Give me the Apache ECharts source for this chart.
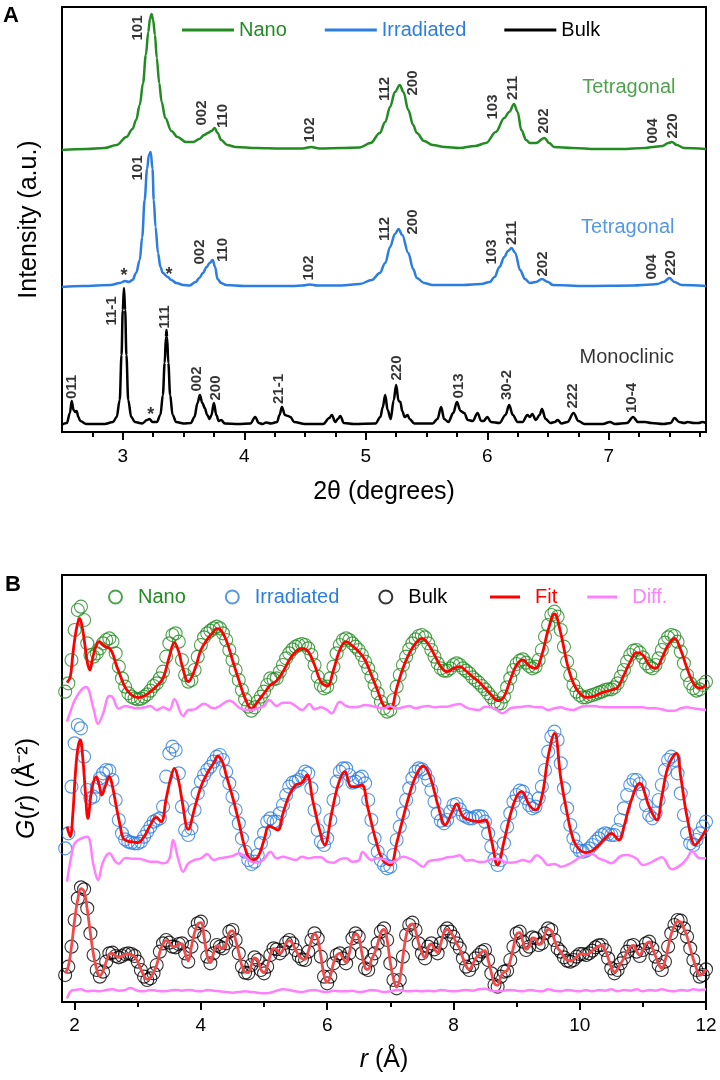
<!DOCTYPE html>
<html>
<head>
<meta charset="utf-8">
<script src="https://cdn.jsdelivr.net/npm/echarts@6/dist/echarts.min.js"></script>
<style>html,body{margin:0;padding:0;background:#fff}#c{width:720px;height:1080px}</style>
</head>
<body>
<div id="c"></div>
<script>
// ---------- Panel A: XRD (2theta in degrees, intensity above each trace's baseline, a.u.) ----------
const NANO_BASE = 282, IRR_BASE = 145, BULK_BASE = 7;
const nanoXRD = [[2.5,0],[2.7,1],[2.85,2],[2.95,5],[3.03,13],[3.08,21],[3.11,30],[3.14,45],[3.167,67],[3.19,95],[3.21,118],[3.225,132],[3.237,136],[3.25,130],[3.265,115],[3.28,92],[3.3,67],[3.32,48],[3.35,32],[3.4,19],[3.45,13],[3.52,8],[3.58,8],[3.63,11],[3.67,15],[3.7,17],[3.73,19],[3.757,22],[3.78,17],[3.81,10],[3.86,5],[3.93,3],[4.1,2],[4.3,1.5],[4.48,1.5],[4.55,3],[4.62,1.5],[4.8,2],[4.95,2.5],[5.04,7],[5.115,17],[5.16,28],[5.2,43],[5.24,58],[5.28,65],[5.31,58],[5.35,40],[5.39,25],[5.42,17],[5.48,9],[5.55,5],[5.65,3],[5.77,2],[5.9,4],[5.99,7],[6.07,18],[6.14,32],[6.18,38],[6.22,46],[6.25,38],[6.28,20],[6.32,10],[6.35,7],[6.4,7],[6.47,12],[6.51,7],[6.55,3],[6.7,2],[6.9,1],[7.1,1],[7.3,2],[7.36,3],[7.4,3.5],[7.44,4],[7.49,7],[7.52,8],[7.56,5],[7.62,2],[7.8,1]];
const irrXRD = [[2.5,0],[2.67,1],[2.9,2],[2.975,4],[3.02,6],[3.05,5],[3.08,7],[3.11,14],[3.14,27],[3.16,50],[3.18,87],[3.2,118],[3.215,132],[3.23,135],[3.245,118],[3.255,87],[3.27,60],[3.29,34],[3.31,20],[3.33,14],[3.37,10],[3.4,7],[3.44,4],[3.5,2],[3.55,1.5],[3.6,5],[3.63,9],[3.66,14],[3.69,20],[3.715,24],[3.74,27],[3.76,20],[3.78,8],[3.81,4],[3.85,2],[4,1],[4.4,1],[4.48,1.5],[4.54,2.5],[4.6,1.5],[4.8,1.5],[4.95,3],[5.05,7],[5.115,14],[5.16,24],[5.2,40],[5.24,53],[5.27,58],[5.3,52],[5.35,34],[5.39,18],[5.42,9],[5.48,4],[5.55,2],[5.8,2],[5.95,3],[6.02,5],[6.06,10],[6.1,20],[6.14,30],[6.17,36],[6.2,39],[6.23,34],[6.27,17],[6.31,8],[6.35,4],[6.4,5],[6.45,8],[6.5,5],[6.54,2],[6.8,1],[7.2,1.5],[7.35,2.5],[7.4,3],[7.45,5],[7.5,9],[7.54,5],[7.6,2],[7.8,1]];
const bulkXRD = [[2.5,0.5],[2.54,2],[2.565,12],[2.58,24],[2.595,15],[2.61,13],[2.62,14],[2.635,8],[2.65,4],[2.7,1],[2.85,1],[2.92,3],[2.95,8],[2.975,25],[2.99,70],[3,115],[3.01,137],[3.02,115],[3.03,70],[3.045,25],[3.07,8],[3.1,3],[3.16,1.5],[3.2,5],[3.22,6],[3.245,3],[3.28,3],[3.31,10],[3.33,30],[3.345,62],[3.355,88],[3.36,95],[3.365,88],[3.375,62],[3.39,30],[3.41,10],[3.44,3],[3.5,1.5],[3.56,2],[3.59,8],[3.615,22],[3.635,30],[3.655,22],[3.675,17],[3.695,10],[3.715,6],[3.73,10],[3.75,22],[3.77,10],[3.79,4],[3.81,5],[3.84,1.5],[3.95,1],[4.05,1.5],[4.09,8],[4.12,2],[4.15,1],[4.18,2.5],[4.22,1.5],[4.27,3],[4.29,10],[4.31,18],[4.335,10],[4.36,9],[4.38,8],[4.41,3],[4.5,1],[4.65,1],[4.7,7],[4.72,10],[4.75,3],[4.77,6],[4.79,9],[4.82,2],[4.9,1],[5.08,1.5],[5.12,8],[5.14,18],[5.16,30],[5.18,15],[5.205,6],[5.23,25],[5.25,40],[5.27,24],[5.285,23],[5.3,14],[5.32,8],[5.345,10],[5.36,6],[5.4,1.5],[5.55,1.5],[5.59,6],[5.62,18],[5.645,6],[5.68,3],[5.72,12],[5.75,23],[5.78,14],[5.81,12],[5.84,5],[5.88,4],[5.92,12],[5.95,4],[5.97,4],[6,8],[6.03,3],[6.1,2],[6.15,10],[6.18,20],[6.21,10],[6.25,3],[6.29,3],[6.33,10],[6.35,8],[6.37,11],[6.4,5],[6.43,10],[6.45,16],[6.48,6],[6.52,2],[6.555,3],[6.58,5],[6.61,1.5],[6.66,3],[6.71,12],[6.75,4],[6.8,1],[6.95,1],[7.01,3],[7.05,1],[7.15,2],[7.2,8],[7.24,3],[7.3,3],[7.35,2],[7.45,1],[7.51,2],[7.54,7],[7.58,3],[7.62,2],[7.65,3],[7.7,2],[7.74,2],[7.77,3],[7.8,2]];
// reflection labels: [text, 2theta, height]
const nanoHKL = [['101',3.125,404],['002',3.65,319],['110',3.825,316],['102',4.54,302],['112',5.158,343],['200',5.389,349],['103',6.047,325],['211',6.212,344],['202',6.467,311],['004',7.364,301],['220',7.529,306]];
const irrHKL = [['101',3.125,264],['002',3.636,180],['110',3.825,182],['102',4.533,164],['112',5.158,203],['200',5.389,210],['103',6.039,180],['211',6.204,199],['202',6.459,168],['004',7.356,165],['220',7.512,169]];
const bulkHKL = [['011',2.58,45],['11-1',2.91,121],['111',3.35,115],['002',3.61,53],['200',3.77,44],['21-1',4.286,43],['220',5.257,64],['013',5.767,46],['30-2',6.163,47],['222',6.706,36],['10-4',7.191,34]];
const stars = [['*',3.01,156],['*',3.38,157],['*',3.23,17]];
const phaseNames = [['Tetragonal',7.165,345,'#228b22'],['Tetragonal',7.156,205,'#2b7de1'],['Monoclinic',7.148,75,'#000000']];
const ticksA = [3,4,5,6,7];
const minorA = [2.75,3.25,3.5,3.75,4.25,4.5,4.75,5.25,5.5,5.75,6.25,6.5,6.75,7.25,7.5,7.75];

// ---------- Panel B: PDF G(r), offset traces ----------
const rObs = [1.85,1.9,1.95,
2,2.05,2.1,2.15,2.2,2.25,2.3,2.35,2.4,2.45,2.5,2.55,2.6,2.65,2.7,2.75,2.8,2.85,2.9,2.95,
3,3.05,3.1,3.15,3.2,3.25,3.3,3.35,3.4,3.45,3.5,3.55,3.6,3.65,3.7,3.75,3.8,3.85,3.9,3.95,
4,4.05,4.1,4.15,4.2,4.25,4.3,4.35,4.4,4.45,4.5,4.55,4.6,4.65,4.7,4.75,4.8,4.85,4.9,4.95,
5,5.05,5.1,5.15,5.2,5.25,5.3,5.35,5.4,5.45,5.5,5.55,5.6,5.65,5.7,5.75,5.8,5.85,5.9,5.95,
6,6.05,6.1,6.15,6.2,6.25,6.3,6.35,6.4,6.45,6.5,6.55,6.6,6.65,6.7,6.75,6.8,6.85,6.9,6.95,
7,7.05,7.1,7.15,7.2,7.25,7.3,7.35,7.4,7.45,7.5,7.55,7.6,7.65,7.7,7.75,7.8,7.85,7.9,7.95,
8,8.05,8.1,8.15,8.2,8.25,8.3,8.35,8.4,8.45,8.5,8.55,8.6,8.65,8.7,8.75,8.8,8.85,8.9,8.95,
9,9.05,9.1,9.15,9.2,9.25,9.3,9.35,9.4,9.45,9.5,9.55,9.6,9.65,9.7,9.75,9.8,9.85,9.9,9.95,
10,10.05,10.1,10.15,10.2,10.25,10.3,10.35,10.4,10.45,10.5,10.55,10.6,10.65,10.7,10.75,10.8,10.85,10.9,10.95,
11,11.05,11.1,11.15,11.2,11.25,11.3,11.35,11.4,11.45,11.5,11.55,11.6,11.65,11.7,11.75,11.8,11.85,11.9,11.95,
12];
const nanoObs = [931,956,1026,
1116,1176,1186,1146,1076,1041,1036,1046,1061,1076,1086,1091,1081,1046,1006,971,946,926,916,911,
908,910,916,923,934,948,956,971,991,1036,1076,1101,1106,1081,1026,981,961,966,996,1036,
1071,1094,1106,1114,1121,1126,1121,1106,1086,1056,1026,996,966,936,908,886,874,884,901,916,
931,951,971,968,971,991,1011,1031,1046,1058,1066,1071,1074,1071,1061,1041,1011,976,951,941,
946,971,1006,1046,1071,1086,1091,1086,1076,1066,1056,1041,1021,1001,976,951,926,901,881,871,
876,906,946,981,1011,1036,1058,1076,1088,1098,1101,1094,1076,1056,1036,1016,1001,994,994,1001,
1011,1016,1011,1001,994,986,974,966,958,948,938,926,914,901,894,896,916,944,971,996,
1014,1024,1028,1018,1008,1001,1006,1026,1056,1096,1131,1161,1171,1156,1116,1066,1021,981,951,931,
921,914,914,918,921,924,928,931,936,938,938,944,956,976,996,1021,1041,1054,1056,1048,
1034,1016,1006,1001,1011,1031,1056,1078,1094,1101,1098,1081,1051,1016,981,956,941,934,938,951,
961];
const irrObs = [461,506,646,
776,831,821,736,636,611,616,646,671,686,696,694,666,606,546,506,488,481,478,476,
476,481,496,511,526,541,546,551,586,676,746,766,756,686,586,516,501,521,576,626,
661,681,696,706,721,736,741,726,691,656,616,576,536,491,451,426,414,421,441,476,
506,541,551,541,541,566,591,621,646,658,661,666,676,691,686,641,576,516,481,471,
491,546,606,661,691,701,701,681,658,661,671,676,656,606,546,491,451,426,411,401,
406,441,486,526,566,606,641,671,691,701,698,686,666,636,601,566,544,536,546,571,
591,594,578,561,556,551,551,556,558,556,541,506,466,428,411,426,476,526,566,601,
621,634,631,611,591,581,586,611,646,696,751,796,811,786,716,641,581,531,491,466,
454,451,454,461,471,481,491,501,506,504,501,501,516,546,581,621,651,666,666,654,
626,591,561,551,566,606,651,696,726,736,726,686,626,561,506,476,471,486,506,526,
541];
const bulkObs = [81,106,166,
246,311,344,338,281,206,141,96,76,91,121,146,148,138,134,138,144,146,144,138,
121,96,76,66,71,86,111,151,176,186,178,166,164,174,176,146,121,166,211,236,
241,196,136,116,146,171,166,161,176,211,216,186,146,106,88,86,111,134,126,96,
86,106,141,161,158,146,156,178,186,176,156,138,128,126,151,186,206,191,136,76,
56,76,116,141,146,131,116,146,191,206,196,146,101,96,126,146,176,211,221,186,
116,66,41,66,136,201,231,238,216,176,146,131,166,176,158,146,176,211,221,211,
196,176,161,131,106,96,111,131,141,151,156,126,86,51,46,76,91,94,126,166,
206,211,181,156,166,194,191,171,176,206,221,216,186,161,151,134,124,121,126,136,
144,144,141,146,154,164,170,171,156,131,101,86,96,116,131,151,168,171,151,138,
156,176,181,161,136,111,96,121,166,206,231,246,244,221,196,161,126,96,76,81,
98];
const bulkFit = [86,106,166,
246,308,340,332,278,206,141,98,78,93,121,144,146,138,134,138,142,144,142,136,
121,98,78,68,73,88,111,150,174,184,178,166,166,174,174,146,123,166,208,234,
238,196,138,118,146,168,164,160,176,208,214,186,148,108,90,88,111,132,126,98,
88,106,140,160,158,146,156,176,184,176,156,140,130,128,151,184,204,190,138,80,
60,78,116,140,146,132,118,146,188,204,194,146,103,98,126,146,174,208,218,186,
118,70,45,68,136,198,228,234,214,176,148,133,164,174,158,148,176,208,218,210,
196,176,160,132,108,98,111,130,140,150,154,126,88,55,50,76,90,94,124,164,
204,208,181,158,166,192,190,172,176,204,218,214,186,162,151,136,126,123,126,136,
144,144,142,146,154,162,168,170,156,132,104,90,98,116,131,150,166,170,152,140,
156,174,180,162,138,113,100,122,164,204,228,242,240,220,196,162,128,100,80,84,
98];
const nanoFit = [[1.88,958],[1.93,975],[1.97,1040],[2,1086],[2.04,1130],[2.08,1151],[2.12,1125],[2.16,1075],[2.2,1020],[2.24,996],[2.29,1036],[2.34,1068],[2.39,1081],[2.44,1072],[2.5,1064],[2.55,1061],[2.6,1046],[2.66,1011],[2.7,991],[2.8,944],[2.9,921],[3,913],[3.1,918],[3.2,931],[3.3,948],[3.4,971],[3.5,1036],[3.58,1078],[3.65,1050],[3.7,1011],[3.8,961],[3.9,996],[4,1056],[4.1,1088],[4.2,1111],[4.25,1120],[4.3,1118],[4.4,1086],[4.5,1026],[4.6,966],[4.7,911],[4.8,880],[4.9,901],[5,926],[5.1,951],[5.2,964],[5.3,991],[5.4,1026],[5.5,1051],[5.6,1061],[5.7,1051],[5.8,1011],[5.9,961],[6,948],[6.1,996],[6.2,1056],[6.3,1081],[6.4,1068],[6.5,1051],[6.6,1026],[6.7,981],[6.8,934],[6.9,888],[7,881],[7.1,941],[7.2,1001],[7.3,1046],[7.4,1076],[7.5,1091],[7.6,1074],[7.7,1041],[7.8,1006],[7.9,991],[8,1001],[8.1,1006],[8.2,993],[8.3,976],[8.4,961],[8.5,941],[8.6,921],[8.7,904],[8.8,916],[8.9,966],[9,1011],[9.1,1026],[9.2,1008],[9.3,1001],[9.4,1041],[9.5,1116],[9.6,1164],[9.7,1106],[9.8,1016],[9.9,956],[10,926],[10.1,914],[10.2,916],[10.3,924],[10.4,931],[10.5,936],[10.6,944],[10.7,981],[10.8,1021],[10.9,1048],[11,1041],[11.1,1011],[11.2,1001],[11.3,1031],[11.4,1071],[11.5,1091],[11.6,1056],[11.7,1001],[11.8,956],[11.9,941],[12,951]];
const irrFit = [[1.88,526],[1.93,496],[1.97,560],[2.01,680],[2.05,760],[2.09,786],[2.13,730],[2.17,630],[2.21,551],[2.27,636],[2.34,676],[2.39,650],[2.43,621],[2.49,650],[2.55,676],[2.6,646],[2.66,586],[2.72,530],[2.77,491],[2.85,482],[2.9,481],[3,478],[3.1,496],[3.2,531],[3.29,554],[3.37,541],[3.45,610],[3.52,670],[3.58,701],[3.65,660],[3.7,606],[3.8,518],[3.9,581],[4,646],[4.1,686],[4.2,716],[4.27,738],[4.35,716],[4.4,681],[4.5,616],[4.6,541],[4.7,461],[4.8,426],[4.9,434],[5,486],[5.08,528],[5.15,522],[5.22,516],[5.3,566],[5.4,621],[5.5,651],[5.6,658],[5.68,681],[5.77,606],[5.88,516],[5.96,471],[6.07,566],[6.18,656],[6.28,691],[6.38,646],[6.46,646],[6.55,651],[6.64,586],[6.77,486],[6.88,426],[7,411],[7.1,476],[7.2,551],[7.3,621],[7.4,676],[7.52,708],[7.63,676],[7.76,586],[7.87,531],[7.97,566],[8.05,594],[8.15,556],[8.26,546],[8.4,541],[8.5,546],[8.6,486],[8.7,411],[8.8,481],[8.9,561],[9,616],[9.08,631],[9.2,591],[9.3,576],[9.4,616],[9.5,736],[9.6,806],[9.7,671],[9.8,566],[9.9,486],[10,456],[10.1,448],[10.2,454],[10.3,471],[10.4,491],[10.5,506],[10.62,486],[10.7,526],[10.8,596],[10.95,656],[11.1,586],[11.22,546],[11.3,616],[11.4,706],[11.53,746],[11.6,676],[11.7,556],[11.83,471],[11.9,486],[12,518]];
const nanoDiff = [[1.88,841],[1.95,880],[2,905],[2.1,935],[2.18,945],[2.3,880],[2.37,835],[2.45,865],[2.55,918],[2.6,915],[2.7,880],[2.8,888],[2.9,884],[3,881],[3.1,884],[3.2,888],[3.3,876],[3.4,884],[3.5,876],[3.58,908],[3.72,858],[3.8,876],[3.9,878],[4,891],[4.05,895],[4.2,881],[4.3,888],[4.4,901],[4.46,904],[4.6,884],[4.7,876],[4.8,876],[4.9,881],[5,888],[5.08,906],[5.2,888],[5.3,898],[5.4,898],[5.5,888],[5.6,876],[5.72,894],[5.8,878],[5.9,884],[6,876],[6.07,866],[6.2,901],[6.3,888],[6.4,884],[6.5,886],[6.6,891],[6.7,888],[6.8,884],[6.9,881],[7,888],[7.1,880],[7.2,884],[7.3,888],[7.4,881],[7.5,886],[7.6,888],[7.7,884],[7.8,886],[7.9,886],[8,891],[8.1,894],[8.2,884],[8.3,878],[8.4,876],[8.5,886],[8.6,884],[8.7,874],[8.78,866],[8.9,881],[9,884],[9.1,886],[9.2,888],[9.3,884],[9.4,884],[9.5,876],[9.6,881],[9.7,884],[9.8,878],[9.9,876],[10,884],[10.1,888],[10.2,888],[10.3,886],[10.4,884],[10.5,884],[10.6,884],[10.7,884],[10.8,884],[10.9,884],[11,884],[11.1,881],[11.2,881],[11.3,878],[11.4,874],[11.5,874],[11.6,881],[11.7,884],[11.8,881],[11.9,878],[12,876]];
const irrDiff = [[1.88,361],[1.95,440],[2,476],[2.1,490],[2.2,496],[2.3,410],[2.37,366],[2.45,420],[2.55,446],[2.65,420],[2.7,415],[2.8,432],[2.9,430],[3,430],[3.1,426],[3.2,421],[3.3,421],[3.4,416],[3.5,430],[3.56,486],[3.64,430],[3.72,391],[3.8,416],[3.9,426],[4,431],[4.1,444],[4.2,426],[4.3,431],[4.4,434],[4.5,438],[4.6,446],[4.7,436],[4.8,421],[4.9,418],[5,428],[5.1,451],[5.2,431],[5.3,436],[5.4,431],[5.5,426],[5.6,436],[5.7,431],[5.8,434],[5.9,434],[6,421],[6.1,418],[6.2,428],[6.3,431],[6.4,421],[6.5,424],[6.56,450],[6.7,426],[6.8,431],[6.9,428],[7,418],[7.1,426],[7.2,436],[7.3,431],[7.4,421],[7.52,406],[7.6,421],[7.7,426],[7.8,428],[7.9,434],[8,436],[8.1,440],[8.2,424],[8.3,426],[8.4,420],[8.5,421],[8.6,428],[8.7,430],[8.8,421],[8.9,418],[9,420],[9.1,426],[9.2,421],[9.32,440],[9.4,431],[9.5,411],[9.6,414],[9.7,406],[9.8,411],[9.9,421],[10,434],[10.1,440],[10.2,444],[10.3,431],[10.4,424],[10.5,416],[10.65,438],[10.75,441],[10.9,430],[11,411],[11.1,416],[11.2,426],[11.3,434],[11.46,398],[11.6,411],[11.7,431],[11.78,452],[11.9,431],[12,431]];
const bulkDiff = [[1.88,11],[1.95,34],[2,36],[2.1,38],[2.2,32],[2.3,34],[2.4,32],[2.5,36],[2.6,38],[2.7,34],[2.8,36],[2.88,42],[3,34],[3.1,32],[3.2,36],[3.3,34],[3.4,32],[3.5,34],[3.6,36],[3.7,34],[3.8,36],[3.9,34],[4,32],[4.1,36],[4.2,34],[4.3,32],[4.4,30],[4.5,28],[4.6,30],[4.7,32],[4.8,30],[4.9,28],[5,26],[5.1,28],[5.2,34],[5.3,38],[5.4,36],[5.5,32],[5.6,30],[5.7,34],[5.8,36],[5.9,32],[6,30],[6.1,34],[6.2,32],[6.3,32],[6.4,34],[6.5,30],[6.6,32],[6.7,36],[6.8,34],[6.9,30],[7,32],[7.1,36],[7.2,34],[7.3,32],[7.4,34],[7.5,32],[7.6,34],[7.7,32],[7.8,36],[7.9,34],[8,32],[8.1,34],[8.2,36],[8.3,34],[8.4,38],[8.5,40],[8.6,34],[8.7,32],[8.8,34],[8.9,36],[9,34],[9.1,32],[9.2,36],[9.3,34],[9.4,32],[9.5,38],[9.6,34],[9.7,32],[9.8,36],[9.9,34],[10,32],[10.1,36],[10.2,32],[10.3,36],[10.4,34],[10.5,38],[10.6,32],[10.7,36],[10.8,34],[10.9,38],[11,32],[11.1,36],[11.2,34],[11.3,38],[11.4,34],[11.5,32],[11.6,36],[11.7,34],[11.8,38],[11.9,36],[12,38]];
const ticksB = [2,4,6,8,10,12];
const minorB = [3,5,7,9,11];

// ---------- styling ----------
const FONT = '"Liberation Sans", Arial, Helvetica, sans-serif';
const GREEN = '#228b22', BLUE = '#2b7de1', BLACK = '#000000', RED = '#ff0000', BULKRED = '#f04a4a', PINK = '#ff80ff';

const chart = echarts.init(document.getElementById('c'), null, {renderer: 'canvas'});

function lineA(name, pts, base, color) {
  return {name, type: 'line', xAxisIndex: 0, yAxisIndex: 0, data: pts.map(p => [p[0], p[1] + base]),
    symbol: 'none', smooth: 0.35, smoothMonotone: 'x', lineStyle: {color, width: 2.5}, itemStyle: {color}, z: 3, silent: true};
}
function textSeries(list, color, size, rotate, weight) {
  return {type: 'scatter', xAxisIndex: 0, yAxisIndex: 0, symbolSize: 0.1, itemStyle: {color: 'transparent'}, silent: true, z: 6,
    data: list.map(d => ({name: d[0], value: [d[1], d[2]]})),
    label: {show: true, position: 'inside', formatter: p => p.name, rotate, color, fontSize: size, fontWeight: weight, fontFamily: FONT}};
}
function obsSeries(name, vals, color) {
  return {name, type: 'scatter', xAxisIndex: 2, yAxisIndex: 1, data: rObs.map((r, i) => [r, vals[i]]),
    symbol: 'circle', symbolSize: 13, itemStyle: {color: 'transparent', borderColor: color, borderWidth: 1.1}, z: 2, silent: true};
}
function lineB(name, data, color, width) {
  return {name, type: 'line', xAxisIndex: 2, yAxisIndex: 1, data, symbol: 'none', smooth: 0.4,
    lineStyle: {color, width}, itemStyle: {color}, z: 4, silent: true};
}

const axisTxt = {color: '#000', fontFamily: FONT};
const option = {
  animation: false,
  backgroundColor: '#fff',
  textStyle: {fontFamily: FONT},
  grid: [
    {left: 62, top: 7, width: 644, height: 425, show: true, borderColor: '#000', borderWidth: 2, backgroundColor: 'transparent'},
    {left: 62, top: 575, width: 644, height: 427, show: true, borderColor: '#000', borderWidth: 2, backgroundColor: 'transparent'}
  ],
  xAxis: [
    {gridIndex: 0, type: 'value', min: 2.5, max: 7.8, position: 'bottom',
      axisLine: {lineStyle: {color: '#000', width: 2}},
      axisTick: {show: true, length: 8, lineStyle: {color: '#000', width: 2}, customValues: ticksA},
      axisLabel: {customValues: ticksA, fontSize: 19, margin: 15, ...axisTxt},
      splitLine: {show: false},
      name: '2θ (degrees)', nameLocation: 'middle', nameGap: 48, nameTextStyle: {fontSize: 25, ...axisTxt}},
    {gridIndex: 0, type: 'value', min: 2.5, max: 7.8, position: 'bottom',
      axisLine: {show: false}, axisLabel: {show: false}, splitLine: {show: false},
      axisTick: {show: true, length: 5, lineStyle: {color: '#000', width: 2}, customValues: minorA}},
    {gridIndex: 1, type: 'value', min: 1.8, max: 12, position: 'bottom',
      axisLine: {lineStyle: {color: '#000', width: 2}},
      axisTick: {show: true, length: 8, lineStyle: {color: '#000', width: 2}, customValues: ticksB},
      axisLabel: {customValues: ticksB, fontSize: 19, margin: 14, ...axisTxt},
      splitLine: {show: false},
      name: '{i|r} (Å)', nameLocation: 'middle', nameGap: 46,
      nameTextStyle: {fontSize: 25, ...axisTxt, rich: {i: {fontStyle: 'italic', fontSize: 25, fontFamily: FONT, color: '#000'}}}},
    {gridIndex: 1, type: 'value', min: 1.8, max: 12, position: 'bottom',
      axisLine: {show: false}, axisLabel: {show: false}, splitLine: {show: false},
      axisTick: {show: true, length: 5, lineStyle: {color: '#000', width: 2}, customValues: minorB}}
  ],
  yAxis: [
    {gridIndex: 0, type: 'value', min: 0, max: 425, axisLine: {show: true, lineStyle: {color: '#000', width: 2}},
      axisTick: {show: false}, axisLabel: {show: false}, splitLine: {show: false},
      name: 'Intensity (a.u.)', nameLocation: 'middle', nameGap: 20, nameTextStyle: {fontSize: 25, ...axisTxt}},
    {gridIndex: 1, type: 'value', min: 0, max: 1281, axisLine: {show: true, lineStyle: {color: '#000', width: 2}},
      axisTick: {show: false}, axisLabel: {show: false}, splitLine: {show: false},
      name: '{i|G}({i|r}) (Å⁻²)', nameLocation: 'middle', nameGap: 22,
      nameTextStyle: {fontSize: 25, ...axisTxt, rich: {i: {fontStyle: 'italic', fontSize: 25, fontFamily: FONT, color: '#000'}}}}
  ],
  legend: [
    {data: [{name: 'Nano', textStyle: {color: GREEN}}, {name: 'Irradiated', textStyle: {color: BLUE}}, {name: 'Bulk', textStyle: {color: BLACK}}],
      left: 177, top: 15, icon: 'rect', itemWidth: 52, itemHeight: 3, itemGap: 38, selectedMode: false,
      textStyle: {fontSize: 20, fontFamily: FONT}},
    {data: [{name: 'Nano ', textStyle: {color: GREEN}}, {name: 'Irradiated ', textStyle: {color: BLUE}}, {name: 'Bulk ', textStyle: {color: BLACK}}],
      left: 103, top: 582, icon: 'circle', itemWidth: 13, itemHeight: 13, itemGap: 39, selectedMode: false,
      formatter: n => n.trim(), textStyle: {fontSize: 20, fontFamily: FONT, padding: [0, 0, 0, 11]}},
    {data: [{name: 'Fit', textStyle: {color: RED}}, {name: 'Diff.', textStyle: {color: PINK}}],
      left: 485, top: 582, icon: 'rect', itemWidth: 30, itemHeight: 3, itemGap: 30, selectedMode: false,
      textStyle: {fontSize: 20, fontFamily: FONT, padding: [0, 0, 0, 10]}}
  ],
  graphic: [
    {type: 'text', left: 3, top: 5, style: {text: 'A', font: 'bold 22px ' + FONT, fill: '#000'}},
    {type: 'text', left: 5, top: 574, style: {text: 'B', font: 'bold 22px ' + FONT, fill: '#000'}}
  ],
  series: [
    lineA('Nano', nanoXRD, NANO_BASE, GREEN),
    lineA('Irradiated', irrXRD, IRR_BASE, BLUE),
    lineA('Bulk', bulkXRD, BULK_BASE, BLACK),
    textSeries(nanoHKL, '#000', 15, 90, 'bold'),
    textSeries(irrHKL, '#000', 15, 90, 'bold'),
    textSeries(bulkHKL, '#000', 15, 90, 'bold'),
    textSeries(stars, '#000', 18, 0, 'bold'),
    ...phaseNames.map(p => textSeries([p], p[3], 20, 0, 'normal')),
    obsSeries('Nano ', nanoObs, GREEN),
    obsSeries('Irradiated ', irrObs, BLUE),
    obsSeries('Bulk ', bulkObs, BLACK),
    lineB('Fit', nanoFit, RED, 2.8),
    lineB('Fit', irrFit, RED, 2.8),
    lineB('Fit', rObs.map((r, i) => [r, bulkFit[i]]), BULKRED, 2.8),
    lineB('Diff.', nanoDiff, PINK, 2.5),
    lineB('Diff.', irrDiff, PINK, 2.5),
    lineB('Diff.', bulkDiff, PINK, 2.5)
  ]
};
chart.setOption(option);
</script>
</body>
</html>
